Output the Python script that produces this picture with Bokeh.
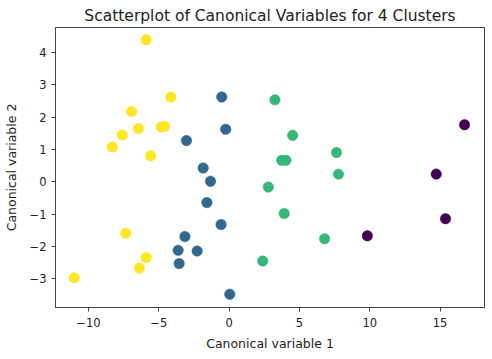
from bokeh.plotting import figure
from bokeh.embed import file_html
from bokeh.resources import INLINE
from bokeh.models import FixedTicker, Range1d, Div
from bokeh.layouts import column

# Cluster data (canonical variable 1, canonical variable 2)
c0_x = [16.74, 14.73, 15.39, 9.83]
c0_y = [1.77, 0.24, -1.14, -1.67]

c1_x = [-0.52, -0.24, -3.03, -1.84, -1.32, -1.58, -0.57, -3.14, -3.62, -2.27, -3.55, 0.05]
c1_y = [2.63, 1.63, 1.28, 0.43, 0.02, -0.64, -1.32, -1.69, -2.12, -2.14, -2.53, -3.48]

c2_x = [3.26, 4.52, 3.74, 4.04, 7.64, 7.78, 2.79, 3.92, 6.79, 2.39]
c2_y = [2.54, 1.44, 0.67, 0.67, 0.91, 0.24, -0.16, -0.98, -1.76, -2.45]

c3_x = [-5.89, -4.14, -6.93, -6.45, -7.59, -8.30, -4.82, -4.59, -5.58, -7.35, -5.89, -6.38, -11.01]
c3_y = [4.40, 2.63, 2.18, 1.65, 1.45, 1.08, 1.70, 1.72, 0.81, -1.59, -2.34, -2.67, -2.97]

colors = ["#440154", "#31688e", "#35b779", "#fde725"]

x_ticks = [-10, -5, 0, 5, 10, 15]
y_ticks = [-3, -2, -1, 0, 1, 2, 3, 4]

title = "Scatterplot of Canonical Variables for 4 Clusters"
x_label = "Canonical variable 1"
y_label = "Canonical variable 2"

FONT = "DejaVu Sans"

p = figure(width=492, height=356, output_backend="svg", toolbar_location=None,
           x_range=Range1d(-12.34, 18.16), y_range=Range1d(-3.89, 4.78),
           title=title)
p.min_border_left = 54
p.min_border_right = 8
p.min_border_top = 27
p.min_border_bottom = 49

p.title.text_font = FONT
p.title.text_font_size = "15.5px"
p.title.text_font_style = "normal"
p.title.text_color = "#222222"
p.title.align = "center"
p.title.offset = 0
p.title.standoff = 6

p.grid.visible = False
p.outline_line_color = "#444444"
p.outline_line_width = 1
p.outline_line_alpha = 1
p.background_fill_color = "white"
p.border_fill_color = "white"

for xs, ys, c in zip([c0_x, c1_x, c2_x, c3_x], [c0_y, c1_y, c2_y, c3_y], colors):
    p.scatter(xs, ys, size=10.5, fill_color=c, line_color=c, line_width=0.5)

p.xaxis.ticker = FixedTicker(ticks=x_ticks)
p.yaxis.ticker = FixedTicker(ticks=y_ticks)
p.xaxis.major_label_overrides = {t: str(t).replace("-", "\u2212") for t in x_ticks}
p.yaxis.major_label_overrides = {t: str(t).replace("-", "\u2212") for t in y_ticks}

for ax in [p.xaxis, p.yaxis]:
    ax.minor_tick_line_color = None
    ax.major_tick_in = 0
    ax.major_tick_out = 4
    ax.major_tick_line_color = "#444444"
    ax.axis_line_color = "#444444"
    ax.major_label_text_font = FONT
    ax.major_label_text_font_size = "11.5px"
    ax.major_label_text_color = "#222222"
    ax.axis_label_text_font = FONT
    ax.axis_label_text_font_size = "12.5px"
    ax.axis_label_text_font_style = "normal"
    ax.axis_label_text_color = "#222222"

p.xaxis.axis_label = x_label
p.yaxis.axis_label = y_label
p.yaxis.major_label_orientation = "horizontal"
p.xaxis.major_label_standoff = 6
p.yaxis.major_label_standoff = 5
p.xaxis.axis_label_standoff = 6
p.yaxis.axis_label_standoff = 8

band = Div(text="", width=492, height=3,
           styles={"background-color": "#1c2330", "width": "492px", "height": "3px"})

layout = column(p, band, spacing=0)
open("out.html", "w").write(file_html(layout, INLINE))
